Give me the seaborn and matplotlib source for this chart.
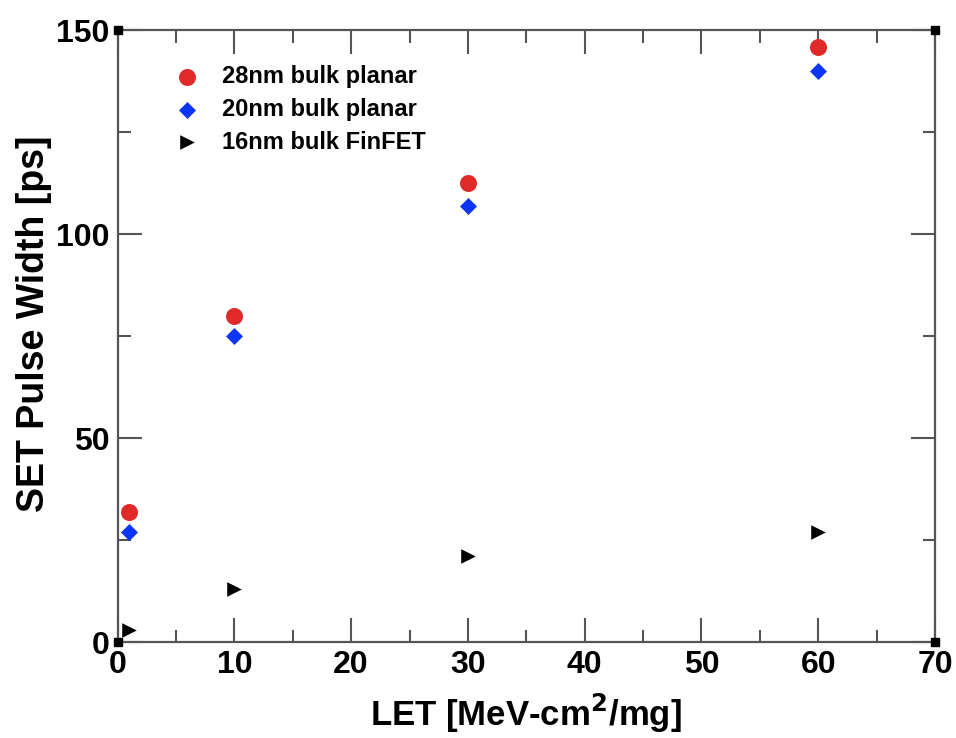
import matplotlib
matplotlib.use("Agg")
import matplotlib.pyplot as plt
import seaborn as sns
import pandas as pd
from matplotlib.ticker import MultipleLocator

# Data
let_values = [1, 10, 30, 60]
w_28nm = [32, 80, 112.5, 146]
w_20nm = [27, 75, 107, 140]
w_16nm = [3, 13, 21, 27]
series_names = ["28nm bulk planar", "20nm bulk planar", "16nm bulk FinFET"]
x_ticks = [0, 10, 20, 30, 40, 50, 60, 70]
y_ticks = [0, 50, 100, 150]

df = pd.DataFrame({
    "LET": let_values * 3,
    "Width": w_28nm + w_20nm + w_16nm,
    "Series": [series_names[0]] * 4 + [series_names[1]] * 4 + [series_names[2]] * 4,
})

sns.set_style("white")
plt.rcParams["font.family"] = ["Liberation Sans", "DejaVu Sans"]
plt.rcParams["font.weight"] = "bold"
plt.rcParams["text.color"] = "black"
plt.rcParams["axes.labelcolor"] = "black"
plt.rcParams["xtick.color"] = "black"
plt.rcParams["ytick.color"] = "black"

fig = plt.figure(figsize=(9.56, 7.38), dpi=100)
ax = fig.add_axes([0.123, 0.130, 0.855, 0.829])

palette = {series_names[0]: "#e02a2a", series_names[1]: "#0a35f5", series_names[2]: "#000000"}
markers = {series_names[0]: "o", series_names[1]: "D", series_names[2]: ">"}
sizes = {series_names[0]: 150, series_names[1]: 75, series_names[2]: 110}

for name in series_names:
    sub = df[df["Series"] == name]
    sns.scatterplot(data=sub, x="LET", y="Width", color=palette[name], marker=markers[name],
                    s=sizes[name], linewidth=0, ax=ax, label=name, clip_on=False, zorder=3)

ax.set_xlim(0, 70)
ax.set_ylim(0, 150)
ax.set_xticks(x_ticks)
ax.set_yticks(y_ticks)
ax.xaxis.set_minor_locator(MultipleLocator(5))
ax.yaxis.set_minor_locator(MultipleLocator(25))
ax.tick_params(which="both", bottom=True, left=True, top=True, right=True, direction="in")
ax.tick_params(which="major", length=17, width=1.5, color="#555555",
               labelsize=23, labelcolor="black", pad=6)
ax.tick_params(which="minor", length=9, width=1.5, color="#555555")
for lab in ax.get_xticklabels() + ax.get_yticklabels():
    lab.set_fontweight("bold")
for sp in ax.spines.values():
    sp.set_color("#555555")
    sp.set_linewidth(1.6)

ax.set_xlabel("LET [MeV-cm$^\\mathbf{2}$/mg]", fontsize=25, fontweight="bold", labelpad=8,
              color="black")
ax.set_ylabel("SET Pulse Width [ps]", fontsize=27, fontweight="bold",
              color="black")
ax.yaxis.set_label_coords(-0.08, 0.52)

# corner squares
for cx, cy in [(0, 0), (1, 0), (0, 1), (1, 1)]:
    ax.plot([cx], [cy], marker="s", markersize=6, color="black", transform=ax.transAxes,
            clip_on=False, zorder=5)

leg = ax.legend(loc="upper left", bbox_to_anchor=(0.045, 0.959), frameon=False,
                fontsize=17, handletextpad=0.45, labelspacing=0.42, borderaxespad=0)
for t in leg.get_texts():
    t.set_fontweight("bold")
    t.set_color("black")

fig.savefig("out.png", dpi=100)
